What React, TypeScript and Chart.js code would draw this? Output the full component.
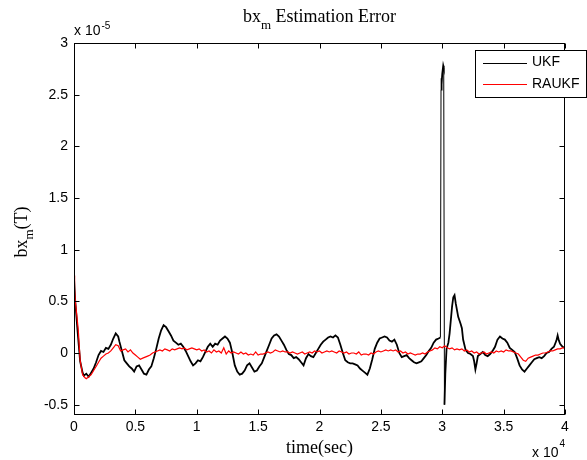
import React, { useEffect, useRef } from "react";
import { Chart, registerables } from "chart.js";
Chart.register(...registerables);

// time (s), bx_m error (×1e-5 T)
const ukf: [number, number][] = [
  [0,0.72],[100,0.50],[300,0.20],[500,-0.08],[700,-0.19],[800,-0.22],[1000,-0.20],[1200,-0.23],[1400,-0.19],[1600,-0.15],
  [1800,-0.09],[2000,-0.02],[2200,0.02],[2400,0.01],[2600,0.05],[2800,0.04],[3000,0.08],[3200,0.14],[3400,0.19],[3600,0.16],
  [3700,0.11],[3900,0.02],[4100,-0.07],[4300,-0.10],[4500,-0.13],[4700,-0.15],[4900,-0.18],[5100,-0.13],[5300,-0.12],[5500,-0.16],
  [5700,-0.20],[5900,-0.21],[6100,-0.16],[6300,-0.13],[6500,-0.05],[6700,0.04],[6900,0.14],[7100,0.22],[7300,0.27],[7500,0.25],
  [7700,0.21],[7900,0.17],[8100,0.12],[8300,0.10],[8500,0.08],[8700,0.09],[8900,0.06],[9100,0.02],[9300,-0.03],[9500,-0.08],
  [9700,-0.12],[9900,-0.10],[10100,-0.07],[10300,-0.08],[10500,-0.04],[10700,0.01],[10900,0.06],[11100,0.09],[11300,0.06],[11500,0.09],
  [11700,0.08],[11900,0.12],[12100,0.14],[12300,0.16],[12500,0.14],[12700,0.10],[12900,0.00],[13100,-0.12],[13300,-0.18],[13500,-0.21],
  [13700,-0.20],[13900,-0.17],[14100,-0.12],[14300,-0.10],[14500,-0.14],[14700,-0.18],[14900,-0.17],[15100,-0.13],[15300,-0.10],[15500,-0.04],
  [15700,0.02],[15900,0.08],[16100,0.14],[16300,0.17],[16500,0.18],[16700,0.16],[16900,0.12],[17100,0.08],[17300,0.03],[17500,-0.01],
  [17700,-0.02],[17900,-0.05],[18100,-0.04],[18300,-0.06],[18500,-0.09],[18700,-0.12],[18900,-0.05],[19100,-0.01],[19300,-0.03],[19500,-0.04],
  [19700,0.00],[19900,0.04],[20100,0.08],[20300,0.11],[20500,0.13],[20700,0.15],[20900,0.16],[21100,0.15],[21300,0.17],[21500,0.15],
  [21700,0.08],[21900,0.00],[22100,-0.07],[22300,-0.09],[22500,-0.10],[22700,-0.10],[22900,-0.11],[23100,-0.12],[23300,-0.15],[23500,-0.17],
  [23700,-0.19],[23900,-0.21],[24100,-0.15],[24300,-0.06],[24500,0.04],[24700,0.10],[24900,0.14],[25100,0.15],[25300,0.16],[25500,0.15],
  [25700,0.12],[25900,0.11],[26100,0.13],[26300,0.08],[26500,0.00],[26700,-0.04],[26900,-0.03],[27100,-0.02],[27300,-0.05],[27500,-0.07],
  [27700,-0.09],[27900,-0.10],[28100,-0.09],[28300,-0.08],[28500,-0.05],[28700,-0.02],[28900,0.02],[29100,0.05],[29300,0.10],[29500,0.13],
  [29700,0.14],[29850,0.15],[29900,2.55],[29930,2.66],[29960,2.60],[30000,2.70],[30080,2.78],[30120,2.76],[30180,-0.50],[30250,-0.20],
  [30350,0.04],[30500,0.10],[30600,0.19],[30800,0.45],[30900,0.54],[31000,0.56],[31100,0.48],[31300,0.35],[31500,0.28],[31600,0.24],
  [31700,0.13],[31900,0.03],[32100,0.00],[32300,-0.01],[32500,-0.03],[32600,-0.08],[32700,-0.16],[32800,-0.10],[32900,-0.03],[33100,-0.01],
  [33300,0.01],[33500,-0.02],[33700,-0.03],[33900,-0.01],[34100,0.02],[34300,0.06],[34500,0.13],[34700,0.16],[34900,0.14],[35100,0.13],
  [35300,0.10],[35500,0.05],[35700,0.03],[35900,0.01],[36100,-0.05],[36300,-0.12],[36500,-0.16],[36700,-0.18],[36900,-0.15],[37100,-0.12],
  [37300,-0.09],[37500,-0.06],[37700,-0.05],[37900,-0.04],[38100,-0.05],[38300,-0.03],[38500,0.00],[38700,0.01],[38900,0.04],[39100,0.06],
  [39300,0.12],[39400,0.17],[39500,0.12],[39600,0.09],[39800,0.06],[40000,0.05],
];

const raukf: [number, number][] = [
  [0,0.75],[50,0.62],[100,0.51],[200,0.40],[350,0.22],[500,-0.07],[700,-0.21],[900,-0.24],[1000,-0.25],[1200,-0.23],
  [1400,-0.21],[1600,-0.17],[1800,-0.13],[2000,-0.09],[2200,-0.05],[2400,-0.03],[2600,-0.01],[2800,0.00],[3000,0.02],[3200,0.05],
  [3400,0.08],[3600,0.07],[3800,0.02],[4000,0.03],[4200,0.04],[4400,0.01],[4600,0.03],[4800,0.00],[5000,-0.02],[5200,-0.04],
  [5400,-0.06],[5600,-0.05],[5800,-0.04],[6000,-0.03],[6200,-0.02],[6400,0.00],[6600,0.01],[6800,0.02],[7000,0.03],[7200,0.02],
  [7400,0.04],[7600,0.03],[7800,0.02],[8000,0.04],[8200,0.03],[8400,0.04],[8600,0.05],[8800,0.04],[9000,0.05],[9200,0.03],
  [9400,0.04],[9600,0.05],[9800,0.04],[10000,0.03],[10200,0.04],[10400,0.02],[10600,0.03],[10800,0.01],[11000,0.02],[11200,0.00],
  [11400,0.03],[11600,0.01],[11800,0.02],[12000,0.00],[12200,0.05],[12400,-0.01],[12600,0.02],[12800,0.00],[13000,0.01],[13200,0.00],
  [13400,-0.01],[13600,0.01],[13800,-0.01],[14000,0.00],[14200,-0.02],[14400,-0.01],[14600,-0.02],[14800,0.01],[15000,-0.02],[15200,-0.01],
  [15400,-0.01],[15600,0.00],[15800,0.01],[16000,0.00],[16200,0.01],[16400,0.03],[16600,0.02],[16800,0.01],[17000,0.02],[17200,0.01],
  [17400,0.01],[17600,0.00],[17800,0.01],[18000,0.00],[18200,-0.01],[18400,0.00],[18600,0.01],[18800,-0.01],[19000,0.00],[19200,0.01],
  [19400,0.00],[19600,0.02],[19800,0.01],[20000,0.02],[20200,0.00],[20400,0.01],[20600,0.02],[20800,0.01],[21000,0.02],[21200,0.01],
  [21400,0.00],[21600,0.02],[21800,0.01],[22000,0.00],[22200,0.01],[22400,-0.01],[22600,0.00],[22800,0.00],[23000,-0.01],[23200,0.01],
  [23400,-0.02],[23600,-0.01],[23800,-0.01],[24000,-0.02],[24200,0.00],[24400,-0.01],[24600,0.01],[24800,0.02],[25000,0.01],[25200,0.02],
  [25400,0.03],[25600,0.02],[25800,0.03],[26000,0.02],[26200,0.03],[26400,0.01],[26600,0.02],[26800,0.00],[27000,0.01],[27200,-0.01],
  [27400,0.00],[27600,-0.01],[27800,-0.02],[28000,-0.01],[28200,-0.01],[28400,0.00],[28600,-0.01],[28800,0.01],[29000,0.02],[29200,0.03],
  [29400,0.05],[29600,0.04],[29800,0.06],[30000,0.05],[30200,0.07],[30400,0.05],[30600,0.04],[30800,0.05],[31000,0.03],[31200,0.04],
  [31400,0.03],[31600,0.04],[31800,0.02],[32000,0.03],[32200,0.01],[32400,0.02],[32600,0.00],[32800,0.01],[33000,-0.01],[33200,0.00],
  [33400,0.01],[33600,-0.01],[33800,0.00],[34000,0.01],[34200,0.00],[34400,0.02],[34600,0.01],[34800,0.02],[35000,0.01],[35200,0.03],
  [35400,0.02],[35600,0.02],[35800,0.01],[36000,0.00],[36200,-0.01],[36400,-0.04],[36600,-0.07],[36800,-0.08],[37000,-0.05],[37200,-0.04],
  [37400,-0.03],[37600,-0.02],[37800,-0.02],[38000,-0.01],[38200,0.00],[38400,0.00],[38600,0.01],[38800,0.02],[39000,0.02],[39200,0.03],
  [39400,0.04],[39600,0.04],[39800,0.05],[40000,0.05],
];

const xTicks = [0, 5000, 10000, 15000, 20000, 25000, 30000, 35000, 40000];
const yTicks = [-0.5, 0, 0.5, 1, 1.5, 2, 2.5, 3];
const seriesNames = ["UKF", "RAUKF"];
const seriesColors = ["#000000", "#ff0000"];

const SANS = "'Liberation Sans', Arial, sans-serif";
const SERIF = "'Liberation Serif', 'Times New Roman', serif";

const framePlugin = {
  id: "matlabFrame",
  afterDraw(chart: any) {
    const { ctx, chartArea: a, scales } = chart;
    const xs = scales.x, ys = scales.y;
    ctx.save();
    ctx.strokeStyle = "#000";
    ctx.lineWidth = 1;
    const L = Math.round(a.left) + 0.5;
    const R = Math.round(a.right) - 0.5;
    const T = Math.round(a.top) + 0.5;
    const B = Math.round(a.bottom) - 0.5;
    ctx.strokeRect(L, T, R - L, B - T);
    const tl = 5;
    ctx.beginPath();
    xTicks.forEach((v) => {
      const p = Math.round(xs.getPixelForValue(v)) + 0.5;
      ctx.moveTo(p, B); ctx.lineTo(p, B - tl);
      ctx.moveTo(p, T); ctx.lineTo(p, T + tl);
    });
    yTicks.forEach((v) => {
      const p = Math.round(ys.getPixelForValue(v)) + 0.5;
      ctx.moveTo(L, p); ctx.lineTo(L + tl, p);
      ctx.moveTo(R, p); ctx.lineTo(R - tl, p);
    });
    ctx.stroke();

    ctx.fillStyle = "#000";
    ctx.textBaseline = "alphabetic";
    const big = "18px " + SERIF;
    const sub = "13px " + SERIF;
    ctx.font = big;
    const w1 = ctx.measureText("bx").width;
    const w3 = ctx.measureText(" Estimation Error").width;
    ctx.font = sub;
    const w2 = ctx.measureText("m").width;
    const cx = (a.left + a.right) / 2;
    let tx = cx - (w1 + w2 + w3) / 2;
    ctx.textAlign = "left";
    ctx.font = big; ctx.fillText("bx", tx, 21.5); tx += w1;
    ctx.font = sub; ctx.fillText("m", tx, 29); tx += w2;
    ctx.font = big; ctx.fillText(" Estimation Error", tx, 21.5);

    ctx.font = big;
    ctx.textAlign = "center";
    ctx.fillText("time(sec)", cx, 453);

    ctx.save();
    ctx.translate(27, 232);
    ctx.rotate(-Math.PI / 2);
    ctx.font = big;
    const yw1 = ctx.measureText("bx").width;
    const yw3 = ctx.measureText("(T)").width;
    ctx.font = sub;
    const yw2 = ctx.measureText("m").width;
    let yx = -(yw1 + yw2 + yw3) / 2;
    ctx.textAlign = "left";
    ctx.font = big; ctx.fillText("bx", yx, 0); yx += yw1;
    ctx.font = sub; ctx.fillText("m", yx, 6); yx += yw2;
    ctx.font = big; ctx.fillText("(T)", yx, 0);
    ctx.restore();

    ctx.textAlign = "left";
    ctx.font = "14px " + SANS;
    ctx.fillText("x 10", 74, 35);
    let ew = ctx.measureText("x 10").width;
    ctx.font = "10px " + SANS;
    ctx.fillText("-5", 74 + ew + 1, 28.5);
    ctx.font = "14px " + SANS;
    ctx.fillText("x 10", 532, 457);
    ew = ctx.measureText("x 10").width;
    ctx.font = "10px " + SANS;
    ctx.fillText("4", 532 + ew + 1, 446.5);

    const lx = 475.5, ly = 50.5, lw = 111, lh = 47;
    ctx.fillStyle = "#fff";
    ctx.fillRect(lx, ly, lw, lh);
    ctx.strokeStyle = "#000";
    ctx.strokeRect(lx, ly, lw, lh);
    const rows = [62.5, 84];
    seriesNames.forEach((name, i) => {
      ctx.strokeStyle = seriesColors[i];
      ctx.lineWidth = 1;
      ctx.beginPath();
      ctx.moveTo(483, Math.round(rows[i]) + 0.5);
      ctx.lineTo(527, Math.round(rows[i]) + 0.5);
      ctx.stroke();
      ctx.fillStyle = "#000";
      ctx.font = "14px " + SANS;
      ctx.textBaseline = "middle";
      ctx.fillText(name, 532, rows[i]);
    });
    ctx.restore();
  },
};

export default function App() {
  const ref = useRef<HTMLCanvasElement | null>(null);
  useEffect(() => {
    if (!ref.current) return;
    const chart = new Chart(ref.current, {
      type: "line",
      data: {
        datasets: [
          {
            label: seriesNames[0],
            data: ukf.map(([x, y]) => ({ x, y })),
            borderColor: seriesColors[0],
            borderWidth: 1.8,
            pointRadius: 0,
            tension: 0,
            order: 1,
            segment: {
              borderWidth: (c: any) => (Math.abs(c.p1.parsed.y - c.p0.parsed.y) > 0.6 ? 1 : 1.8),
            },
          },
          {
            label: seriesNames[1],
            data: raukf.map(([x, y]) => ({ x, y })),
            borderColor: seriesColors[1],
            borderWidth: 1.2,
            pointRadius: 0,
            tension: 0,
            order: 0,
          },
        ],
      },
      options: {
        animation: false,
        responsive: false,
        devicePixelRatio: 1,
        layout: { padding: { left: 0, top: 43, right: 22, bottom: 0 } },
        plugins: { legend: { display: false }, title: { display: false }, tooltip: { enabled: false } },
        scales: {
          x: {
            type: "linear",
            min: 0,
            max: 40000,
            border: { display: false },
            grid: { display: false, drawTicks: false },
            afterBuildTicks: (s: any) => { s.ticks = xTicks.map((v) => ({ value: v })); },
            afterFit: (s: any) => { s.height = 45; },
            ticks: {
              color: "#000",
              font: { family: SANS, size: 14 },
              padding: 4,
              maxRotation: 0,
              autoSkip: false,
              callback: (v: any) => String(Number(v) / 10000),
            },
          },
          y: {
            type: "linear",
            min: -0.6,
            max: 3,
            border: { display: false },
            grid: { display: false, drawTicks: false },
            afterBuildTicks: (s: any) => { s.ticks = yTicks.map((v) => ({ value: v })); },
            afterFit: (s: any) => { s.width = 74; },
            ticks: {
              color: "#000",
              font: { family: SANS, size: 14 },
              padding: 6,
              autoSkip: false,
              callback: (v: any) => String(v),
            },
          },
        },
      },
      plugins: [framePlugin],
    });
    return () => chart.destroy();
  }, []);
  return (
    <div style={{ position: "absolute", left: 0, top: 0, width: 587, height: 460, background: "#fff" }}>
      <canvas ref={ref} width={587} height={460} style={{ display: "block", width: 587, height: 460 }} />
    </div>
  );
}
